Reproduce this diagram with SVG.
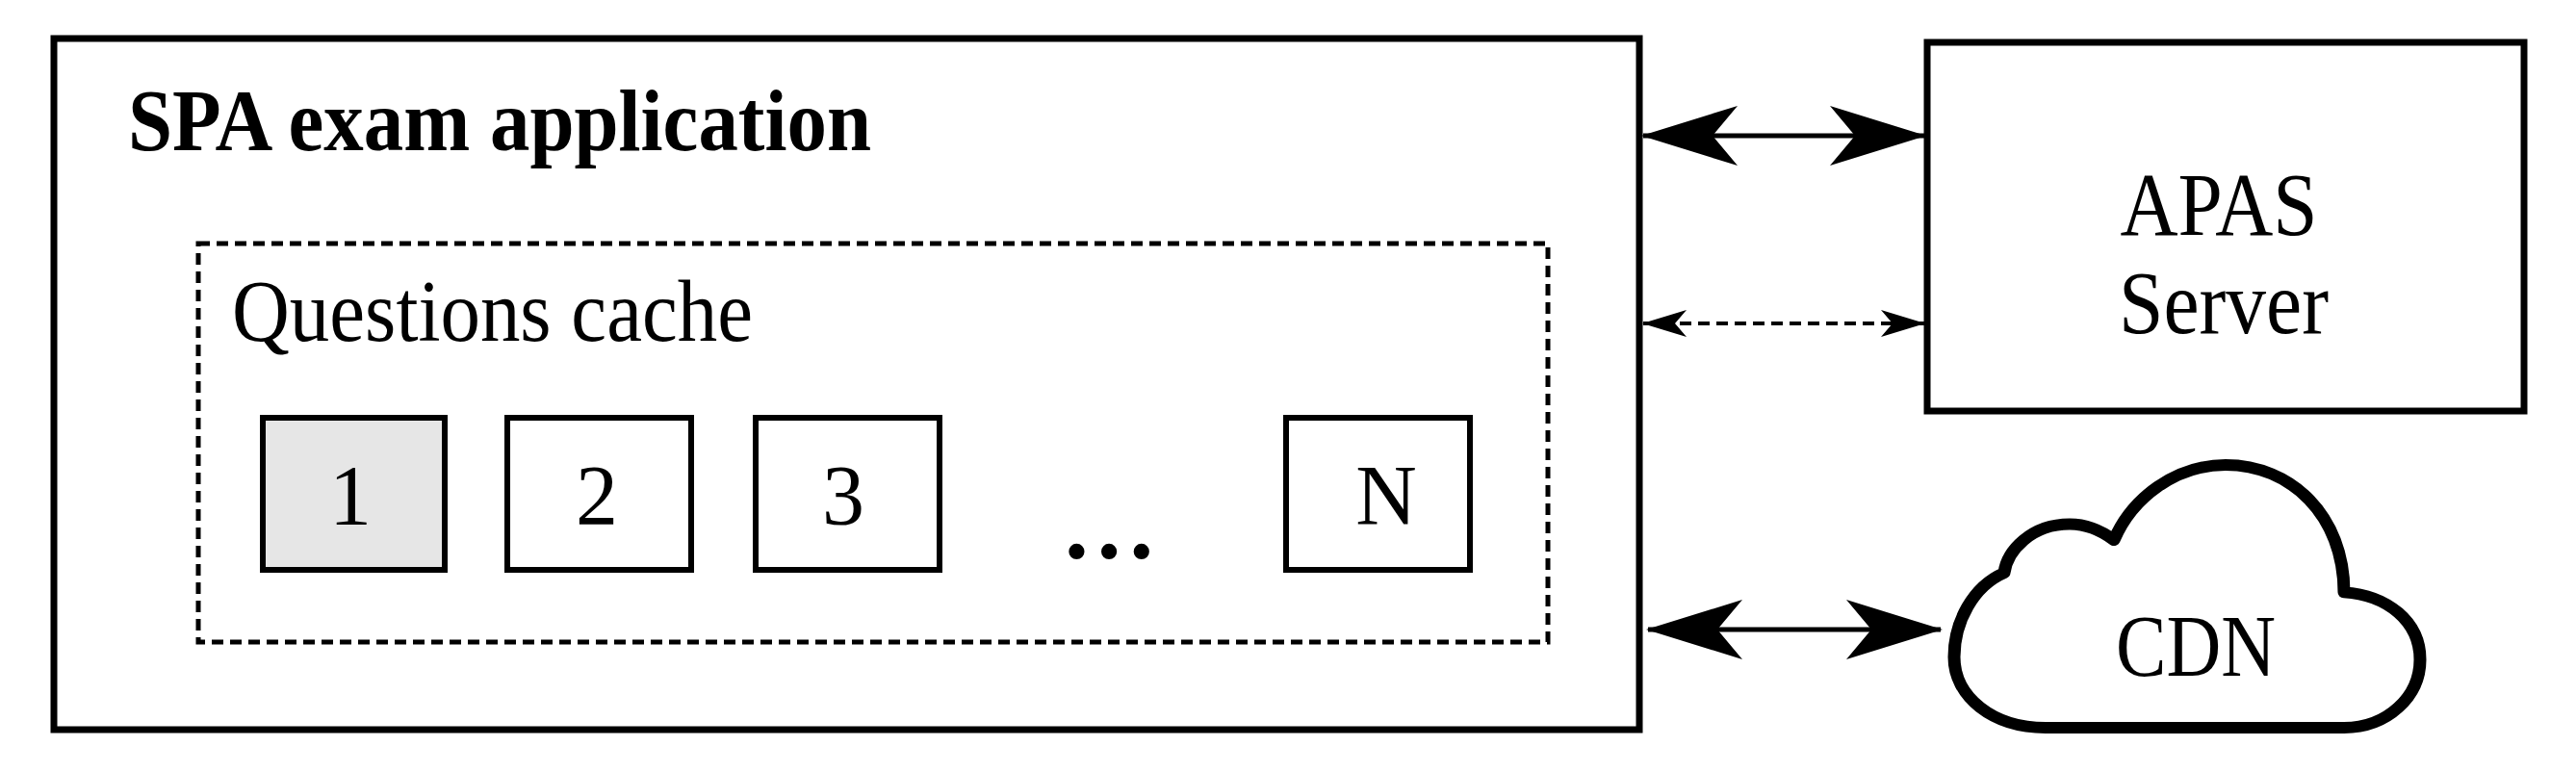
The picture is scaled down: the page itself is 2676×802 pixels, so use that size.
<svg xmlns="http://www.w3.org/2000/svg" width="2676" height="802" viewBox="0 0 2676 802">
<style>
.t{font-family:"Liberation Serif",serif;fill:#000}
.box{fill:#fff;stroke:#000;stroke-width:7}
.q{fill:#fff;stroke:#000;stroke-width:6}
</style>
<defs>
<marker id="big" viewBox="0 -32 100 64" refX="98" refY="0" markerWidth="100" markerHeight="64" markerUnits="userSpaceOnUse" orient="auto-start-reverse"><path d="M0,-31 L100,0 L0,31 L26,0 Z" fill="#000"/></marker>
<marker id="small" viewBox="0 -15 46 30" refX="45" refY="0" markerWidth="46" markerHeight="30" markerUnits="userSpaceOnUse" orient="auto-start-reverse"><path d="M0,-14 L46,0 L0,14 L12,0 Z" fill="#000"/></marker>
</defs>
<rect width="2676" height="802" fill="#fff"/>
<g id="spa">
<rect class="box" x="56" y="40" width="1647" height="718"/>
<text class="t" x="133" y="156" font-size="92" font-weight="bold" textLength="772" lengthAdjust="spacingAndGlyphs">SPA exam application</text>
</g>
<g id="cache">
<rect x="206" y="253" width="1402" height="414" fill="none" stroke="#000" stroke-width="5" stroke-dasharray="12,7"/>
<text class="t" x="241" y="354" font-size="90" textLength="541" lengthAdjust="spacingAndGlyphs">Questions cache</text>
</g>
<g id="q1"><rect class="q" x="273" y="434" width="189" height="158" style="fill:#e6e6e6"/><text class="t" x="364" y="544" font-size="88" text-anchor="middle">1</text></g>
<g id="q2"><rect class="q" x="527" y="434" width="191" height="158"/><text class="t" x="620" y="544" font-size="88" text-anchor="middle">2</text></g>
<g id="q3"><rect class="q" x="785" y="434" width="191" height="158"/><text class="t" x="876" y="544" font-size="88" text-anchor="middle">3</text></g>
<g id="dots"><text class="t" x="1152" y="580" font-size="100" font-weight="bold" text-anchor="middle">…</text></g>
<g id="qN"><rect class="q" x="1336" y="434" width="191" height="158"/><text class="t" x="1440" y="544" font-size="88" text-anchor="middle">N</text></g>
<g id="apas">
<rect class="box" x="2002" y="44" width="620" height="383"/>
<text class="t" x="2305" y="244" font-size="93" text-anchor="middle" textLength="205" lengthAdjust="spacingAndGlyphs">APAS</text>
<text class="t" x="2310" y="346" font-size="93" text-anchor="middle" textLength="218" lengthAdjust="spacingAndGlyphs">Server</text>
</g>
<g id="cdn">
<path transform="translate(0,483) scale(1,0.919) translate(0,-463)" d="M2125,760 L2435,760 C2480,760 2514,725 2514,683 C2514,640 2480,610 2435,607 C2435,520 2380,463 2312,463 C2260,463 2215,500 2196,548 C2180,535 2165,530 2150,530 C2110,530 2085,560 2082,585 C2050,600 2030,640 2030,680 C2030,725 2070,760 2125,760 Z" fill="#fff" stroke="#000" stroke-width="13" stroke-linejoin="round"/>
<text class="t" x="2281" y="702" font-size="92" text-anchor="middle" textLength="166" lengthAdjust="spacingAndGlyphs">CDN</text>
</g>
<g id="connectors" stroke="#000" fill="none">
<line x1="1707" y1="141" x2="1999" y2="141" stroke-width="5" marker-start="url(#big)" marker-end="url(#big)"/>
<line x1="1707" y1="336" x2="1999" y2="336" stroke-width="4" stroke-dasharray="12,7" marker-start="url(#small)" marker-end="url(#small)"/>
<line x1="1712" y1="654" x2="2016" y2="654" stroke-width="5" marker-start="url(#big)" marker-end="url(#big)"/>
</g>
</svg>
